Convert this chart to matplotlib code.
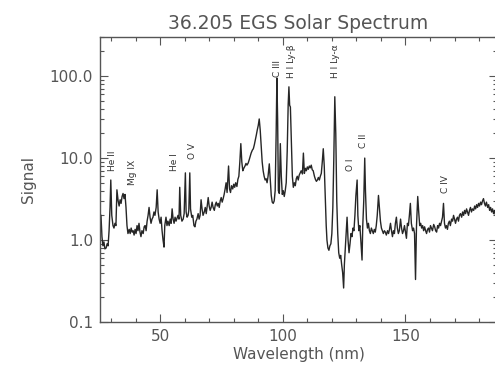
import matplotlib
matplotlib.use("Agg")
import matplotlib.pyplot as plt
from matplotlib.ticker import FixedLocator, LogLocator, FormatStrFormatter, NullFormatter

# Wavelength (nm) and signal
wavelength = [
    25.9, 26.3, 26.7, 27.1, 27.5, 28.0, 28.4, 28.8, 29.2, 29.6, 29.9, 30.3, 30.8, 31.2, 31.6, 32.0,
    32.4, 32.9, 33.3, 33.7, 34.1, 34.5, 34.9, 35.3, 35.7, 36.1, 36.5, 36.9, 37.4, 37.8, 38.2, 38.6,
    39.0, 39.4, 39.8, 40.2, 40.6, 41.0, 41.4, 41.8, 42.2, 42.6, 43.1, 43.5, 43.9, 44.3, 44.7, 45.1,
    45.5, 45.9, 46.3, 46.7, 47.1, 47.5, 47.9, 48.4, 48.8, 49.2, 49.6, 50.0, 50.4, 50.8, 51.2, 51.6,
    51.9, 52.4, 52.8, 53.2, 53.7, 54.1, 54.5, 54.9, 55.3, 55.7, 56.1, 56.5, 57.3, 57.7, 58.0, 58.4,
    58.9, 59.4, 59.8, 60.3, 60.6, 61.0, 61.4, 61.7, 62.1, 62.4, 62.9, 63.3, 63.8, 64.2, 64.6, 65.0,
    65.5, 65.9, 66.3, 66.7, 67.1, 67.5, 68.0, 68.4, 68.8, 69.2, 69.6, 70.0, 70.4, 70.8, 71.2, 71.6,
    72.1, 72.5, 72.9, 73.3, 73.7, 74.1, 74.5, 74.9, 75.3, 75.7, 76.1, 76.5, 76.9, 77.3, 77.9, 78.3,
    78.7, 79.1, 79.6, 80.0, 80.4, 80.8, 81.3, 81.7, 82.1, 82.5, 82.9, 83.3, 83.7, 84.1, 84.6, 85.0,
    85.4, 85.9, 86.3, 86.7, 87.1, 87.6, 88.0, 88.4, 88.8, 89.2, 89.6, 90.0, 90.4, 90.8, 91.2, 91.6,
    92.0, 92.4, 92.8, 93.2, 93.6, 94.0, 94.5, 94.9, 95.3, 95.7, 96.1, 96.5, 96.9, 97.3, 97.6, 97.9,
    98.2, 98.6, 99.0, 99.4, 99.8, 100.2, 100.6, 101.0, 101.4, 101.8, 102.2, 102.5, 102.8, 103.1, 103.5, 103.9,
    104.3, 104.7, 105.1, 105.5, 105.9, 106.3, 106.7, 107.1, 107.5, 108.0, 108.4, 108.8, 109.2, 109.6, 110.0, 110.4,
    110.8, 111.2, 111.6, 112.0, 112.4, 112.9, 113.3, 113.7, 114.1, 114.5, 114.9, 115.3, 115.7, 116.1, 116.5, 116.9,
    117.3, 117.7, 118.0, 118.4, 118.8, 119.2, 119.6, 120.0, 120.4, 120.8, 121.2, 121.6, 122.0, 122.4, 122.8, 123.2,
    123.6, 124.0, 124.4, 124.8, 125.1, 125.5, 125.8, 126.2, 126.6, 127.0, 127.4, 127.8, 128.2, 128.6, 129.0, 129.4,
    129.8, 130.3, 130.6, 131.0, 131.4, 131.8, 132.3, 132.6, 133.0, 133.4, 133.7, 134.1, 134.5, 134.9, 135.3, 135.7,
    136.1, 136.5, 136.9, 137.3, 137.7, 138.1, 138.5, 139.0, 139.4, 139.8, 140.2, 140.6, 141.0, 141.4, 141.8, 142.2,
    142.7, 143.1, 143.5, 143.9, 144.3, 144.7, 145.1, 145.5, 145.9, 146.3, 146.7, 147.1, 147.5, 148.0, 148.4, 148.8,
    149.2, 149.6, 150.0, 150.4, 150.8, 151.2, 151.6, 152.0, 152.4, 152.9, 153.3, 153.7, 154.1, 154.5, 155.0, 155.4,
    155.8, 156.2, 156.6, 157.0, 157.4, 157.8, 158.2, 158.6, 159.0, 159.4, 159.8, 160.2, 160.6, 161.0, 161.5, 161.9,
    162.3, 162.7, 163.1, 163.5, 163.9, 164.3, 164.7, 165.1, 165.5, 165.9, 166.3, 166.7, 167.1, 167.5, 167.9, 168.3,
    168.8, 169.2, 169.6, 170.0, 170.4, 170.8, 171.2, 171.6, 172.0, 172.4, 172.9, 173.3, 173.7, 174.1, 174.5, 174.9,
    175.3, 175.7, 176.1, 176.5, 176.9, 177.3, 177.8, 178.2, 178.6, 179.0, 179.4, 179.8, 180.2, 180.6, 181.0, 181.4,
    181.8, 182.2, 182.6, 183.0, 183.5, 183.9, 184.3, 184.7, 185.1, 185.5, 185.9, 186.3, 186.7, 187.1,
]
signal = [
    2.0, 1.1, 0.85, 0.95, 0.78, 0.8, 0.9, 0.85, 1.3, 2.5, 5.4, 2.0, 1.5, 1.4, 1.6, 1.5,
    4.1, 3.0, 2.6, 3.1, 2.8, 3.4, 3.7, 3.2, 3.6, 2.5, 1.5, 1.2, 1.35, 1.2, 1.4, 1.25,
    1.3, 1.15, 1.35, 1.2, 1.5, 1.3, 1.6, 1.25, 1.1, 1.3, 1.2, 1.45, 1.5, 1.3, 1.7, 2.0,
    2.5, 1.9, 1.6, 1.8, 1.9, 2.2, 2.0, 2.5, 4.1, 2.2, 1.8, 1.6, 1.9, 1.3, 1.0, 0.82,
    1.5, 1.9, 1.5, 1.7, 1.5, 1.8, 1.6, 2.4, 1.8, 1.6, 1.9, 1.7, 2.0, 1.8, 4.4, 2.0,
    1.7, 1.8, 2.1, 6.6, 2.2, 1.9, 2.0, 2.3, 6.6, 2.4, 1.9, 2.0, 1.5, 1.45, 1.7, 1.8,
    2.1, 1.8, 2.0, 3.1, 2.4, 2.0, 2.2, 2.5, 2.1, 2.6, 3.3, 2.6, 2.3, 2.5, 2.9, 2.5,
    2.3, 2.7, 2.9, 2.6, 2.8, 2.5, 3.0, 3.3, 2.9, 3.2, 3.6, 4.2, 5.0, 3.8, 8.0, 4.2,
    3.8, 4.6, 4.2, 4.8, 4.4, 5.0, 4.5, 5.5, 6.0, 9.0, 15.0, 9.0, 7.0, 7.5, 8.0, 8.6,
    8.2, 8.7, 9.5, 10.5, 11.5, 12.5, 13.0, 14.5, 16.5, 19.0, 22.0, 25.0, 30.0, 22.0, 14.0, 9.0,
    7.0, 6.0, 5.4, 5.6, 5.0, 6.0, 8.5, 5.5, 3.5, 2.9, 2.8, 3.0, 4.0, 20.0, 95.0, 30.0,
    4.0, 3.7, 15.0, 6.0, 3.6, 4.0, 3.4, 4.0, 5.0, 12.0, 45.0, 74.0, 44.0, 42.0, 16.0, 6.0,
    4.4, 5.0, 4.6, 5.6, 6.0, 5.4, 6.2, 6.6, 7.0, 6.4, 11.5, 6.5, 7.5, 7.0, 7.8, 7.3,
    8.0, 7.6, 8.2, 7.2, 7.0, 6.0, 5.5, 5.2, 5.4, 5.8, 5.4, 6.0, 6.5, 9.0, 13.0, 8.0,
    3.5, 1.5, 1.0, 0.8, 0.75, 0.85, 0.9, 1.2, 2.5, 10.0, 56.0, 20.0, 3.0, 1.2, 0.7, 0.6,
    0.65, 0.5, 0.4, 0.26, 0.5, 0.8, 1.2, 1.9, 1.0, 0.7, 0.9, 1.2, 1.1, 1.4, 1.3, 2.0,
    3.5, 5.4, 2.0, 1.3, 1.5, 1.0, 0.57, 1.5, 3.0, 10.0, 4.0, 1.8, 1.4, 1.6, 1.3, 1.2,
    1.4, 1.3, 1.2, 1.35, 1.25, 1.5, 2.0, 3.5, 2.4, 1.7, 1.4, 1.3, 1.2, 1.3, 1.25, 1.15,
    1.3, 1.2, 1.35, 1.6, 1.3, 1.1, 1.3, 1.2, 1.6, 1.9, 1.4, 1.2, 1.3, 1.8, 1.4, 1.2,
    1.3, 1.5, 1.25, 1.05, 1.6, 1.5, 2.0, 2.8, 1.6, 1.3, 1.4, 1.2, 0.33, 1.5, 3.4, 2.2,
    1.5, 1.6, 1.4, 1.5, 1.3, 1.45, 1.3, 1.2, 1.35, 1.4, 1.25, 1.5, 1.4, 1.3, 1.55, 1.45,
    1.3, 1.25, 1.5, 1.4, 1.6, 1.5, 1.7, 1.9, 2.8, 1.6, 1.4, 1.5, 1.35, 1.6, 1.7, 1.5,
    1.8, 1.7, 2.0, 1.8, 1.6, 1.8, 1.9, 1.7, 2.0, 2.1, 1.9, 2.2, 2.0, 2.3, 2.1, 2.4,
    2.2, 2.0, 2.3, 2.5, 2.2, 2.4, 2.3, 2.6, 2.4, 2.7, 2.5, 2.8, 2.6, 2.9, 2.7, 3.0,
    3.2, 2.8, 2.6, 2.9, 2.5, 2.7, 2.3, 2.5, 2.2, 2.4, 2.1, 2.3, 2.0, 2.2,
]

# Line identifications: label, wavelength, height of label centre
line_names = ["He II", "Mg IX", "He I", "O V", "C III", "H I Ly-\u03b2",
              "H I Ly-\u03b1", "O I", "C II", "C IV"]
line_wl = [30.8, 38.6, 55.7, 63.1, 97.8, 103.5, 121.4, 127.6, 132.9, 166.3]
line_y = [9.2, 6.6, 8.95, 12.2, 125, 153, 153, 8.4, 16.1, 4.8]

y_ticks = [0.1, 1.0, 10.0, 100.0]
x_ticks = [50, 100, 150]

fig = plt.figure(figsize=(4.95, 3.76), dpi=100)
ax = fig.add_axes([0.202, 0.1436, 0.802, 0.758])

ax.plot(wavelength, signal, color="#262626", lw=1.0)

for name, wl, yy in zip(line_names, line_wl, line_y):
    ax.text(wl, yy, name, rotation=90, ha="center", va="center",
            fontsize=6.5, color="#333333")

ax.set_yscale("log")
ax.set_xlim(25.5, 187.3)
ax.set_ylim(0.1, 300)

ax.yaxis.set_major_locator(FixedLocator(y_ticks))
ax.yaxis.set_major_formatter(FormatStrFormatter("%.1f"))
ax.yaxis.set_minor_locator(LogLocator(base=10, subs=range(2, 10)))
ax.yaxis.set_minor_formatter(NullFormatter())
ax.xaxis.set_major_locator(FixedLocator(x_ticks))
ax.xaxis.set_minor_locator(FixedLocator(list(range(30, 190, 10))))

gray = "#555555"
ax.tick_params(which="both", direction="in", top=True, right=True,
               colors=gray, labelcolor=gray, labelsize=11, width=0.8)
ax.tick_params(which="major", length=6, pad=5)
ax.tick_params(which="minor", length=3)
for sp in ax.spines.values():
    sp.set_color(gray)
    sp.set_linewidth(1.0)

ax.set_title("36.205 EGS Solar Spectrum", fontsize=13.5, color="#555555", pad=6)
ax.set_xlabel("Wavelength (nm)", fontsize=11, color=gray, labelpad=2)
ax.set_ylabel("Signal", fontsize=11, color=gray, labelpad=10)

fig.savefig("out.png", dpi=100)
